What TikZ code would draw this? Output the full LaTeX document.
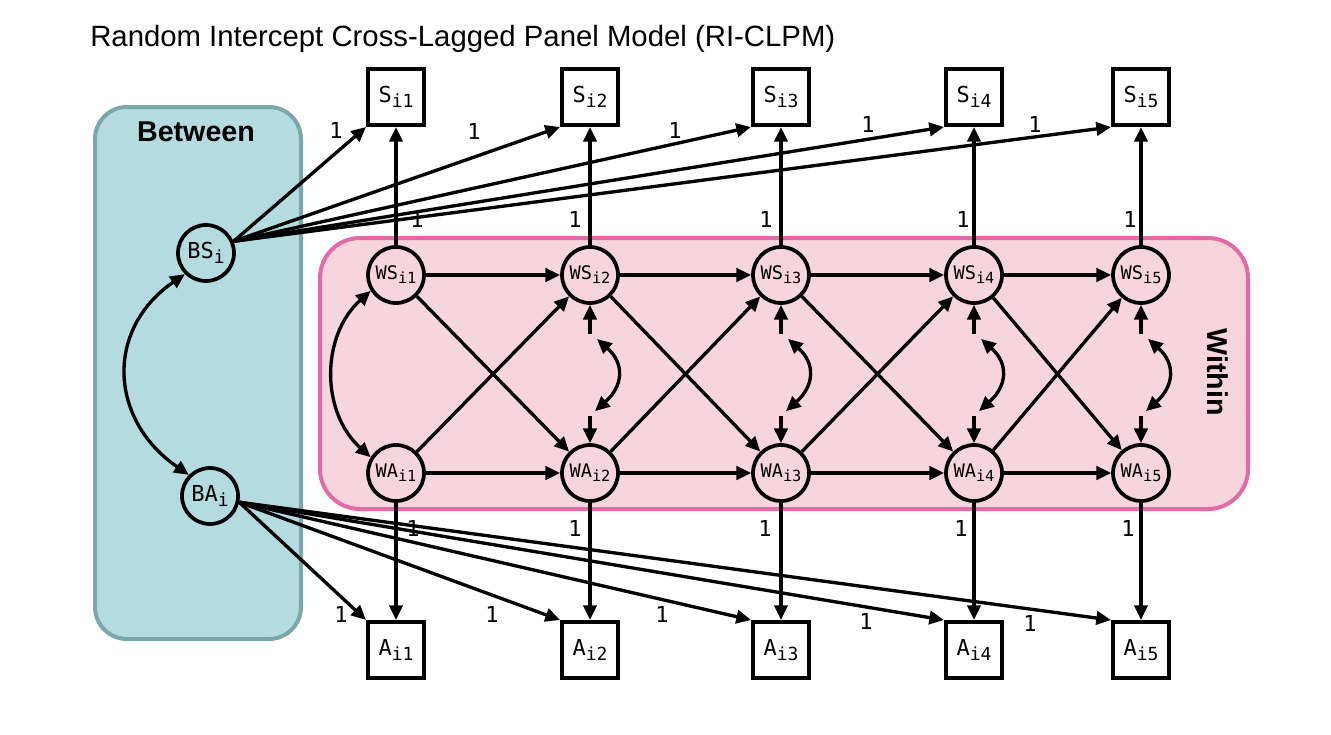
\documentclass[tikz,border=0pt]{standalone}
\usepackage{fontspec}
\setmainfont{Liberation Sans}
\newfontfamily\monofnt{DejaVu Sans Mono}
\usetikzlibrary{arrows.meta,calc}
\definecolor{betweenfill}{HTML}{B4DCE0}
\definecolor{betweendraw}{HTML}{7BA7AA}
\definecolor{withinfill}{HTML}{F7D5DC}
\definecolor{withindraw}{HTML}{E36BA5}
\newcommand\lsub[1]{\raisebox{-0.22em}{\scalebox{0.82}{#1}}}
\begin{document}
\begin{tikzpicture}[x=0.75pt,y=-0.75pt,
  arr/.style={-{Triangle[length=11pt,width=10pt]}, line width=2.5pt},
  dbl/.style={{Triangle[length=11pt,width=10pt]}-{Triangle[length=11pt,width=10pt]}, line width=2.5pt},
  latent/.style={circle,draw,line width=2.8pt,minimum size=42pt,inner sep=0pt,font=\monofnt\fontsize{14}{14}\selectfont},
  blatent/.style={latent,font=\monofnt\fontsize{16.5}{16.5}\selectfont},
  obs/.style={rectangle,draw,line width=3pt,minimum size=42pt,inner sep=0pt,font=\monofnt\fontsize{16.5}{16.5}\selectfont},
  one/.style={font=\monofnt\fontsize{16.5}{16.5}\selectfont, inner sep=0pt},
  panel/.style={line width=3pt}
]
\useasboundingbox (0,0) rectangle (1331,735);

% panels
\draw[panel, fill=betweenfill, draw=betweendraw, rounded corners=24pt] (95,107) rectangle (301,639);
\draw[panel, fill=withinfill, draw=withindraw, rounded corners=30pt] (320,238) rectangle (1248,509);

% title and panel labels
\node[anchor=base west, font=\fontsize{22}{22}\selectfont, inner sep=0pt] (title) at (90,47) {Random Intercept Cross-Lagged Panel Model (RI-CLPM)};
\node[font=\bfseries\fontsize{21.5}{21.5}\selectfont, inner sep=0pt] (betweenlbl) at (196,132) {Between};
\node[rotate=-90, font=\bfseries\fontsize{21.5}{21.5}\selectfont, inner sep=0pt] (withinlbl) at (1218,372) {Within};

% nodes
\node[blatent] (BS) at (206,253) {BS\lsub{i}};
\node[blatent] (BA) at (210,496) {BA\lsub{i}};
\foreach \k/\x in {1/396,2/590,3/781,4/974,5/1141} {
  \node[obs] (S\k) at (\x,97) {S\lsub{i\k}};
  \node[latent] (WS\k) at (\x,275) {WS\lsub{i\k}};
  \node[latent] (WA\k) at (\x,473) {WA\lsub{i\k}};
  \node[obs] (A\k) at (\x,650) {A\lsub{i\k}};
}

% loadings
\foreach \k in {1,...,5} {
  \draw[arr] (WS\k) -- (S\k);
  \draw[arr] (WA\k) -- (A\k);
  \draw[arr] (BS.23) -- (S\k.south west);
  \draw[arr] (BA.-12) -- (A\k.north west);
}

% autoregressive and cross-lagged paths
\foreach \k/\n in {1/2,2/3,3/4,4/5} {
  \draw[arr] (WS\k) -- (WS\n);
  \draw[arr] (WA\k) -- (WA\n);
  \draw[arr] (WS\k) -- (WA\n);
  \draw[arr] (WA\k) -- (WS\n);
}

% residuals and their covariances
\foreach \k in {2,...,5} {
  \coordinate (eS\k) at ($(WS\k.south)+(0,29)$);
  \coordinate (eA\k) at ($(WA\k.north)+(0,-27)$);
  \draw[arr] (eS\k) -- (WS\k.south);
  \draw[arr] (eA\k) -- (WA\k.north);
  \coordinate (cS\k) at ($(eS\k)+(7,5)$);
  \coordinate (cA\k) at ($(eA\k)+(5,-5)$);
  \draw[dbl] (cS\k) .. controls +(28,25) and +(28,-25) .. (cA\k);
}

% covariances
\draw[dbl] (BS.225) .. controls +(-80,55) and +(-80,-55) .. (BA.135);
\draw[dbl] (WS1.212) .. controls +(-50,45) and +(-50,-45) .. (WA1.148);

% labels
\foreach \k/\x/\y in {1/336/130,2/474/131,3/675/130,4/868/124,5/1035/124}
  \node[one] (lBS\k) at (\x,\y) {1};
\foreach \k/\x/\y in {1/417/219,2/575/219,3/766/219,4/963/219,5/1130/219}
  \node[one] (lWS\k) at (\x,\y) {1};
\foreach \k/\x/\y in {1/413/528,2/575/528,3/765/528,4/961/528,5/1128/528}
  \node[one] (lWA\k) at (\x,\y) {1};
\foreach \k/\x/\y in {1/341/614,2/492/614,3/662/614,4/866/621,5/1030/623}
  \node[one] (lBA\k) at (\x,\y) {1};
\end{tikzpicture}
\end{document}
